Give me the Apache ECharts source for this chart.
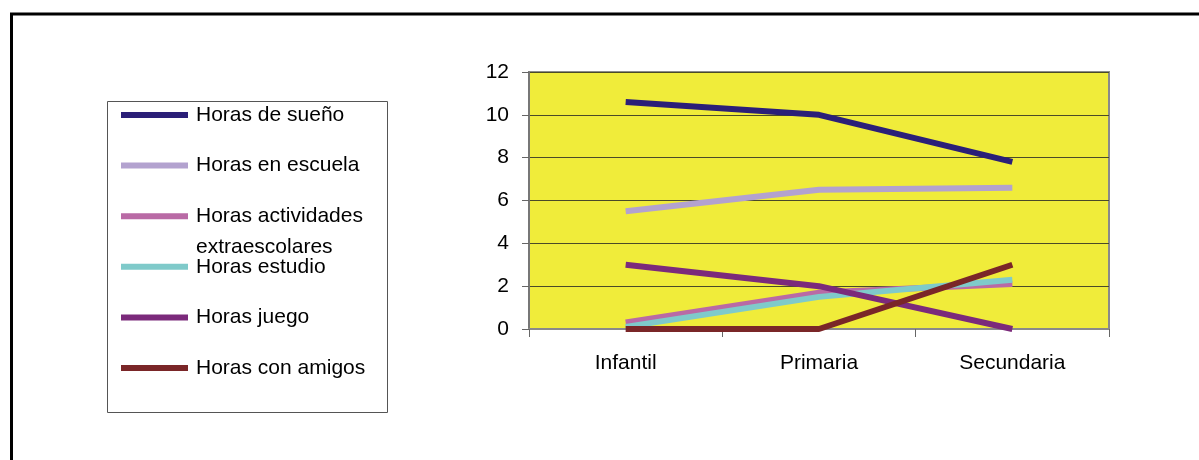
<!DOCTYPE html>
<html>
<head>
<meta charset="utf-8">
<script src="https://cdn.jsdelivr.net/npm/echarts@6/dist/echarts.min.js"></script>
<style>
  html, body { margin: 0; padding: 0; background: #fff; }
  #chart { width: 1199px; height: 460px; }
</style>
</head>
<body>
<div id="chart"></div>
<script>
// data
const categories = ['Infantil', 'Primaria', 'Secundaria']
const seriesNames = [
  'Horas de sueño',
  'Horas en escuela',
  'Horas actividades extraescolares',
  'Horas estudio',
  'Horas juego',
  'Horas con amigos'
]
const suenoValues = [10.6, 10.0, 7.8]
const escuelaValues = [5.5, 6.5, 6.6]
const actividadesValues = [0.3, 1.7, 2.1]
const estudioValues = [0.1, 1.5, 2.3]
const juegoValues = [3, 2, 0]
const amigosValues = [0, 0, 3]
const yTicks = [0, 2, 4, 6, 8, 10, 12]

const seriesValues = [suenoValues, escuelaValues, actividadesValues, estudioValues, juegoValues, amigosValues]
const colors = ['#2B1F78', '#B3A2CF', '#B96AA5', '#7FCACA', '#7B2A7B', '#7A2628']

const font = '"Liberation Sans", Arial, sans-serif'
const chart = echarts.init(document.getElementById('chart'))

// one legend block per item so the spacing matches the original box
const legendStep = 50.6
const legends = seriesNames.map((name, i) => {
  const center = 115 + i * legendStep
  const twoLines = name === 'Horas actividades extraescolares'
  return {
    data: [name],
    orient: 'vertical',
    left: 121,
    // the wrapped item gets an empty first line so the icon sits on "Horas actividades"
    top: twoLines ? center - 46.5 : center - 12,
    padding: 0,
    itemGap: 0,
    itemWidth: 67,
    itemHeight: 6,
    icon: 'rect',
    selectedMode: false,
    formatter: n => twoLines ? ' \nHoras actividades\nextraescolares' : n,
    textStyle: {
      fontFamily: font,
      fontSize: 21,
      color: '#000',
      lineHeight: twoLines ? 31 : 24,
      padding: [0, 0, 0, 3]
    }
  }
})

const option = {
  backgroundColor: '#fff',
  animation: false,
  graphic: [
    {
      type: 'rect',
      shape: { x: 11.5, y: 14, width: 1300, height: 600 },
      style: { fill: 'none', stroke: '#000', lineWidth: 3 },
      silent: true
    },
    {
      type: 'rect',
      shape: { x: 107.5, y: 101.5, width: 280, height: 311 },
      style: { fill: '#fff', stroke: '#555', lineWidth: 1 },
      silent: true,
      z: -1
    }
  ],
  legend: legends,
  grid: {
    left: 529,
    top: 72,
    right: 90,
    bottom: 131,
    show: true,
    backgroundColor: '#F0EC3A',
    borderColor: '#8a8a8a',
    borderWidth: 2
  },
  xAxis: {
    type: 'category',
    data: categories,
    boundaryGap: true,
    axisLine: { lineStyle: { color: '#8a8a8a', width: 2 } },
    axisTick: { show: true, length: 8, lineStyle: { color: '#666' } },
    axisLabel: { color: '#000', fontFamily: font, fontSize: 21, margin: 24 }
  },
  yAxis: {
    type: 'value',
    min: yTicks[0],
    max: yTicks[yTicks.length - 1],
    interval: 2,
    axisLine: { show: true, lineStyle: { color: '#777', width: 2 } },
    axisTick: { show: true, length: 7, lineStyle: { color: '#666' } },
    axisLabel: { color: '#000', fontFamily: font, fontSize: 21, margin: 20 },
    splitLine: { lineStyle: { color: '#4a4a28', width: 1 } }
  },
  series: seriesNames.map((name, i) => ({
    name: name,
    type: 'line',
    data: seriesValues[i],
    symbol: 'none',
    lineStyle: { color: colors[i], width: 6 },
    itemStyle: { color: colors[i] }
  }))
}

chart.setOption(option)
</script>
</body>
</html>
